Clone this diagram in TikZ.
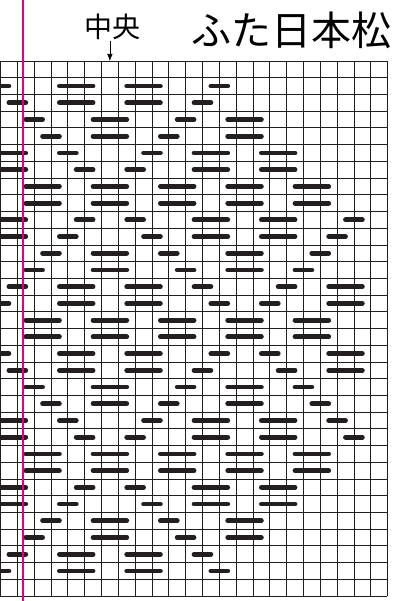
\documentclass[tikz,border=0pt]{standalone}
\usepackage{fontspec}
\newfontfamily\jpfont{Noto Sans CJK JP}
\usetikzlibrary{arrows.meta}
\definecolor{guide}{HTML}{E4007F}
\definecolor{ink}{HTML}{231F20}

\begin{document}
\begin{tikzpicture}[
x=1pt, y=-1pt,
gridline/.style={draw=black!88, line width=0.8pt},
stitch/.style={ink, line width=4.8pt, line cap=round},
centreline/.style={guide, line width=2.4pt},
marktext/.style={font=\jpfont\fontsize{28}{28}\selectfont, inner sep=0.5pt},
heading/.style={font=\jpfont\fontsize{40}{40}\selectfont, inner sep=0pt},
arr/.style={-{Latex[length=7pt,width=5.5pt]}, line width=0.6pt}
]
\useasboundingbox (0,0) rectangle (398,601);
\clip (0,0) rectangle (398,601);
\node[heading] (title) at (291.5,30) {ふた日本松};
\node[marktext] (chuo) at (112.5,27) {中央};
\coordinate (mid) at (109.9,61);
\draw[arr] (chuo.south -| mid) -- (mid);
\foreach \i in {0,...,23} \draw[gridline] ({0.5+16.83*\i},61) -- ({0.5+16.83*\i},596);
\foreach \j in {0,...,32} \draw[gridline] (0,{61+16.72*\j}) -- (387.3,{61+16.72*\j});
\foreach \r/\segs in {
  1/{-1/0,3/5,7/9,12/13},
  2/{0/1,3/5,7/9,11/12},
  3/{1/2,5/7,10/11,13/15},
  4/{2/3,5/7,9/10,13/15},
  5/{-1/1,3/4,8/9,11/13,15/17},
  6/{-1/1,4/5,7/8,11/13,15/17},
  7/{1/3,5/7,9/11,13/15,17/19},
  8/{1/3,5/7,9/11,13/15,17/19},
  9/{-1/1,4/5,7/8,11/13,15/17,20/21},
  10/{-1/1,3/4,8/9,11/13,15/17,19/20},
  11/{2/3,5/7,9/10,13/15,18/19},
  12/{1/2,5/7,10/11,13/15,17/18},
  13/{0/1,3/5,7/9,11/12,16/17,19/21},
  14/{-1/0,3/5,7/9,12/13,15/16,19/21},
  15/{1/3,5/7,9/11,13/15,17/19}}
  \foreach \a/\b in \segs {
    \draw[stitch] ({0.5+16.83*(\a+0.5)},{61+16.72*(\r+0.5)}) -- ({0.5+16.83*(\b+0.5)},{61+16.72*(\r+0.5)});
    \draw[stitch] ({0.5+16.83*(\a+0.5)},{61+16.72*(31.5-\r)}) -- ({0.5+16.83*(\b+0.5)},{61+16.72*(31.5-\r)});
  };
\draw[centreline] (22.7,0) -- (22.7,601);
\end{tikzpicture}
\end{document}
